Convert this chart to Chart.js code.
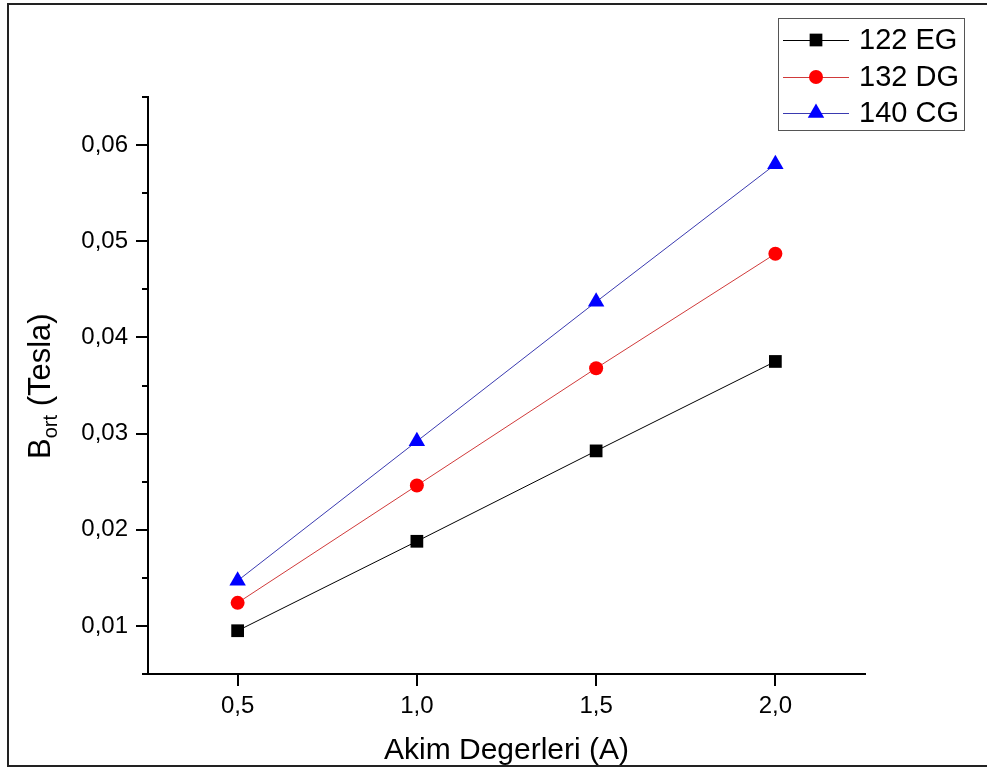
<!DOCTYPE html>
<html>
<head>
<meta charset="utf-8">
<script src="https://cdn.jsdelivr.net/npm/chart.js@4/dist/chart.umd.min.js"></script>
<style>
    body { margin: 0; background: #fff; }
    #wrap { position: relative; width: 987px; height: 769px; overflow: hidden; }
    #frame { position: absolute; left: 7px; top: 3px; width: 1000px; height: 760px; border: 2px solid #222; pointer-events: none; }
</style>
</head>
<body>
<div id="wrap">
    <canvas id="myChart"></canvas>
    <div id="frame"></div>
</div>
<script>
var currents = [0.5, 1.0, 1.5, 2.0];
var eg122 = [0.0095, 0.0188, 0.0282, 0.0375];
var dg132 = [0.0124, 0.0246, 0.0368, 0.0487];
var cg140 = [0.0147, 0.0292, 0.0437, 0.0580];
var xTicks = [0.5, 1.0, 1.5, 2.0];
var yTicks = [0.01, 0.02, 0.03, 0.04, 0.05, 0.06];
var yMinorTicks = [0.005, 0.015, 0.025, 0.035, 0.045, 0.055, 0.065];

function pts(ys) {
    return currents.map(function (x, i) { return {x: x, y: ys[i]}; });
}

var series = [
    {label: '122 EG', data: eg122, line: '#000000', fill: '#000000', style: 'rect', r: 9},
    {label: '132 DG', data: dg132, line: '#d03a3a', fill: '#ff0000', style: 'circle', r: 7},
    {label: '140 CG', data: cg140, line: '#3a3ab0', fill: '#0000ff', style: 'triangle', r: 9.5}
];

// легенда как в Origin: линия + маркер
var originLegend = {
    id: 'originLegend',
    afterDraw: function (chart) {
        var ctx = chart.ctx;
        ctx.save();
        ctx.lineWidth = 1;
        ctx.strokeStyle = '#555';
        ctx.strokeRect(778.5, 18.5, 186, 112);
        var rows = [40, 77, 113];
        series.forEach(function (s, i) {
            var y = rows[i];
            ctx.strokeStyle = s.line;
            ctx.lineWidth = 1;
            ctx.beginPath();
            ctx.moveTo(783, y + 0.5);
            ctx.lineTo(849, y + 0.5);
            ctx.stroke();
            ctx.fillStyle = s.fill;
            Chart.helpers.drawPoint(ctx, {pointStyle: s.style, radius: s.r, rotation: 0, borderWidth: 0}, 816, y);
            ctx.fillStyle = '#000';
            ctx.font = '29px "Liberation Sans", Arial, sans-serif';
            ctx.textBaseline = 'middle';
            ctx.textAlign = 'left';
            ctx.fillText(s.label, 859, y + 1);
        });
        ctx.restore();
    }
};

// мелкие деления на оси Y и подпись оси с индексом
var axisExtras = {
    id: 'axisExtras',
    afterDraw: function (chart) {
        var ctx = chart.ctx;
        var ys = chart.scales.y;
        ctx.save();
        ctx.strokeStyle = '#000';
        ctx.lineWidth = 2;
        yMinorTicks.forEach(function (v) {
            var py = Math.round(ys.getPixelForValue(v));
            ctx.beginPath();
            ctx.moveTo(ys.right - 6, py);
            ctx.lineTo(ys.right, py);
            ctx.stroke();
        });
        ctx.translate(50, 459);
        ctx.rotate(-Math.PI / 2);
        ctx.fillStyle = '#000';
        ctx.textBaseline = 'alphabetic';
        ctx.textAlign = 'left';
        ctx.font = '31px "Liberation Sans", Arial, sans-serif';
        ctx.fillText('B', 0, 0);
        var w = ctx.measureText('B').width;
        ctx.font = '20px "Liberation Sans", Arial, sans-serif';
        ctx.fillText('ort', w, 7);
        var w2 = w + ctx.measureText('ort').width;
        ctx.font = '31px "Liberation Sans", Arial, sans-serif';
        ctx.fillText(' (Tesla)', w2, 0);
        ctx.restore();
    }
};

var ctx = document.getElementById('myChart');
var myChart = new Chart(ctx, {
    type: 'line',
    data: {
        datasets: series.map(function (s) {
            return {
                label: s.label,
                data: pts(s.data),
                borderColor: s.line,
                borderWidth: 1,
                backgroundColor: s.fill,
                pointStyle: s.style,
                pointRadius: s.r,
                pointBorderWidth: 0,
                pointBackgroundColor: s.fill,
                tension: 0
            };
        })
    },
    plugins: [originLegend, axisExtras],
    options: {
        responsive: true,
        maintainAspectRatio: false,
        animation: false,
        layout: {padding: {top: 97, right: 122, left: 0, bottom: 0}},
        plugins: {
            legend: {display: false},
            tooltip: {enabled: false}
        },
        scales: {
            x: {
                type: 'linear',
                min: 0.25,
                max: 2.25,
                afterBuildTicks: function (scale) {
                    scale.ticks = xTicks.map(function (v) { return {value: v}; });
                },
                afterFit: function (scale) { scale.height = 95; },
                border: {display: true, color: '#000', width: 2},
                grid: {drawOnChartArea: false, drawTicks: true, tickLength: 12, color: '#000', lineWidth: 2},
                ticks: {
                    color: '#000',
                    padding: 6,
                    font: {family: '"Liberation Sans", Arial, sans-serif', size: 24},
                    callback: function (v) { return v.toFixed(1).replace('.', ','); }
                },
                title: {
                    display: true,
                    text: 'Akim Degerleri (A)',
                    color: '#000',
                    padding: 0,
                    font: {family: '"Liberation Sans", Arial, sans-serif', size: 30}
                }
            },
            y: {
                min: 0.005,
                max: 0.065,
                afterBuildTicks: function (scale) {
                    scale.ticks = yTicks.map(function (v) { return {value: v}; });
                },
                afterFit: function (scale) { scale.width = 148; },
                border: {display: true, color: '#000', width: 2},
                grid: {drawOnChartArea: false, drawTicks: true, tickLength: 12, color: '#000', lineWidth: 2},
                ticks: {
                    color: '#000',
                    padding: 8,
                    font: {family: '"Liberation Sans", Arial, sans-serif', size: 24},
                    callback: function (v) { return v.toFixed(2).replace('.', ','); }
                }
            }
        }
    }
});
</script>
</body>
</html>
